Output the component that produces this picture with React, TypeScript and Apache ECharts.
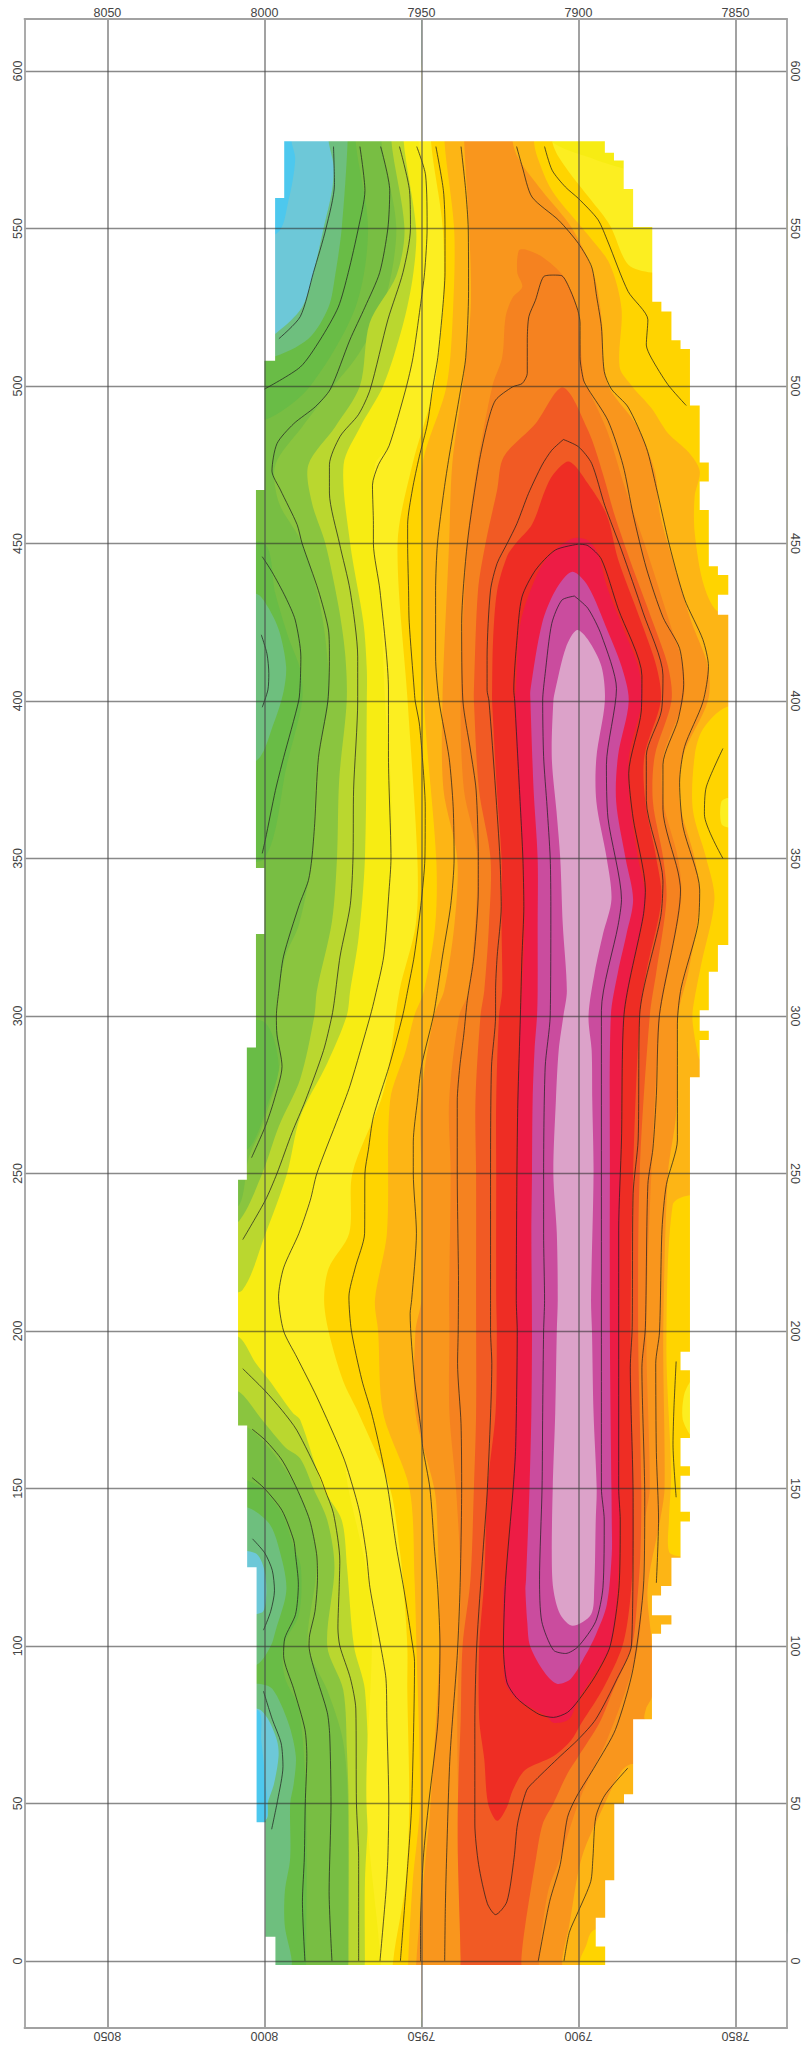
import React, { useEffect, useRef } from "react";
import * as echarts from "echarts";

type P = number[];

const X_TICKS = [8050, 8000, 7950, 7900, 7850];
const Y_TICKS = [0, 50, 100, 150, 200, 250, 300, 350, 400, 450, 500, 550, 600];
const X_LEFT = 8076.4;
const X_RIGHT = 7833.6;
const Y_BOTTOM = -21.3;
const Y_TOP = 616.5;

// Low patches that lie under every band
const LOW_BLUE_TOP: P[] = [[8015, 590], [7991.4, 590], [7991.4, 578], [7990.2, 572], [7992.3, 559], [7996, 548.5], [8015, 545]];
const LOW_CYAN_TOP: P[] = [[8015, 590], [7979.6, 590], [7979.6, 578], [7978, 570], [7978.5, 562], [7981.2, 550], [7984.4, 536], [7988, 525], [7996, 517], [8003, 513], [8015, 512]];
const LOW_CYAN_MID: P[] = [[8015, 129.5], [8003, 129.5], [8000, 124], [7999.5, 115], [8001, 110.5], [8015, 110]];
const LOW_CYAN_LOW: P[] = [[8015, 80], [8002, 80], [7999, 77], [7996, 70], [7995.5, 65], [7997, 56], [7999, 50], [7999.5, 45], [8015, 43]];
const LOW_BLUE_LOW: P[] = [[8015, 80], [8002, 79.5], [8001, 70], [8000, 60], [8000, 44], [8015, 43]];

const FULL_AREA: P[] = [[8030, 600], [7840, 600], [7840, -15], [8030, -15]];

const G0: P[] = [[7973.5, 600], [7973.5, 578], [7975.4, 550], [7977.5, 535], [7979.6, 525], [7986, 515], [7998, 509], [8015, 507], [8015, 434], [8002.6, 434], [7999, 430], [7995.4, 422.5], [7993.1, 411], [7993.9, 403], [7997, 393], [8002.6, 381], [8015, 381], [8015, 144], [8005.6, 144], [7998.6, 139], [7995.5, 131.5], [7993, 118], [7996.4, 105], [7998, 100], [8002.5, 94], [8015, 92], [8015, 88.5], [8002, 88], [7997.5, 86.4], [7992.4, 75.6], [7990, 65], [7990.7, 56], [7991.8, 50], [7991.8, 32.7], [7993.5, 22], [7993.5, 11], [7991.3, 0], [7991.3, -15], [7840, -15], [7840, 600]];
const G1: P[] = [[7971, 600], [7971, 578], [7967, 550], [7971, 525], [7985.4, 500], [7998, 490], [8015, 485], [8015, 450], [8000, 450], [7996.5, 434], [7992.3, 420], [7988.6, 410], [7988, 400], [7992.8, 380], [8000, 350], [8015, 348], [8015, 300], [8000, 298], [7995.4, 284], [7998.6, 273], [8005, 258], [8015, 256], [8015, 156], [8005.6, 152.6], [8000.7, 150], [7994.4, 142], [7990.7, 131.5], [7988.4, 125], [7989, 110], [7994, 100], [7993.5, 90], [7989, 80], [7986.7, 50], [7986.7, 0], [7986.7, -15], [7840, -15], [7840, 600]];
const G2: P[] = [[7962.8, 600], [7962.8, 578], [7958, 550], [7962.2, 525], [7970.1, 510], [7978, 500], [7988, 487], [7996.5, 475], [7995.4, 463], [7988, 450], [7982.2, 430], [7979.6, 410], [7979.6, 400], [7983.3, 380], [7984.9, 350], [7989, 329], [7993.3, 319], [7995.4, 308], [7996.5, 300], [7995, 285], [8000.7, 265], [8005, 255], [8008, 240], [8015, 238], [8015, 171], [8005.6, 169.5], [7998.6, 163], [7991.2, 152.6], [7985.6, 140], [7983.4, 125], [7986.2, 100], [7980, 86], [7975, 70], [7973.4, 50], [7973.3, 0], [7973.3, -15], [7840, -15], [7840, 600]];
const G3: P[] = [[7959.6, 600], [7959.6, 578], [7955.4, 550], [7958, 535], [7966.5, 520], [7969.6, 500], [7977.5, 487], [7986, 475], [7984.9, 463], [7980.6, 450], [7976.4, 430], [7974.3, 415], [7973.8, 400], [7976.2, 375], [7976.9, 350], [7978.5, 330], [7983.3, 308], [7984.1, 300], [7988.6, 280], [7995.4, 265], [8000.7, 250], [8008, 235], [8015, 232], [8015, 182], [8008, 180.6], [8000.7, 171.7], [7993.3, 163], [7988.6, 159.5], [7984.4, 150], [7980, 140], [7977.7, 125], [7980, 100], [7974.9, 86], [7973.7, 66], [7973.2, 50], [7973.2, 0], [7973.2, -15], [7840, -15], [7840, 600]];
const G4: P[] = [[7955.7, 600], [7955.7, 578], [7951.7, 550], [7952.7, 535], [7956, 519], [7962.2, 500], [7969.5, 487], [7974.8, 475], [7972.7, 450], [7968.5, 425], [7967.4, 410], [7967.4, 400], [7968, 350], [7970, 325], [7972.7, 308], [7973.8, 300], [7980, 285], [7988.6, 268], [7992.8, 250], [8000, 230], [8007, 213], [8015, 211], [8015, 199], [8008, 198], [8002.9, 190], [7998.6, 184.5], [7991, 174], [7988.6, 171.7], [7981.2, 150], [7975.4, 140], [7973.7, 125], [7971.5, 100], [7968, 86], [7966.9, 50], [7968, 25], [7968, 0], [7968, -15], [7840, -15], [7840, 600]];
const Y1: P[] = [[7951, 600], [7951, 578], [7948.5, 567], [7948, 550], [7949, 536], [7950.4, 525], [7952.7, 510], [7955, 500], [7960.3, 481], [7964.8, 475], [7965.3, 450], [7963.2, 435], [7961.6, 400], [7959.7, 372], [7959.7, 350], [7962, 319], [7966.3, 300], [7972.7, 278], [7976.4, 268], [7983.3, 250], [7989, 231], [7993.9, 220], [7995.4, 210], [7993.9, 200], [7989.7, 191.7], [7983, 179], [7975, 160], [7973.3, 150], [7967, 121], [7965.8, 100], [7967.5, 50], [7963, 0], [7963, -15], [7840, -15], [7840, 566], [7880, 568], [7895, 572], [7910, 579], [7915, 600]];
const Y2: P[] = [[7947, 600], [7947, 578], [7943.2, 550], [7943.2, 525], [7945.9, 500], [7952.9, 475], [7957.6, 450], [7954.4, 400], [7951.3, 350], [7951.8, 329], [7957, 308], [7960.5, 283], [7963, 273], [7972, 250], [7973, 231], [7979.5, 220], [7981, 210], [7979.6, 200], [7974.9, 184], [7970.1, 174], [7960, 150], [7957, 131], [7955.9, 121], [7954.5, 100], [7954.5, 86], [7953.9, 50], [7955, 25], [7959, 0], [7959, -15], [7840, -15], [7840, 536], [7870, 536], [7876.8, 536], [7884.2, 538.6], [7890, 551], [7896, 559], [7900, 564], [7906.3, 572.7], [7908.4, 578], [7909, 600]];
const YELLOW_PATCH_A: P[] = [[7864, 184], [7866.3, 180], [7866.8, 172], [7864, 167]];
const YELLOW_PATCH_B: P[] = [[7852, 369], [7854.5, 368], [7854.5, 361], [7852, 360]];
const O0: P[] = [[7942.7, 600], [7942.7, 578], [7939.6, 550], [7939.9, 525], [7942, 500], [7949.7, 475], [7949.7, 450], [7949.2, 400], [7945.3, 350], [7945.6, 329], [7949.2, 308], [7952.3, 300], [7955, 289], [7960, 273], [7961, 231], [7964.8, 210], [7963.8, 200], [7962.2, 174], [7953.8, 150], [7952.2, 121], [7951.6, 100], [7950.5, 50], [7952.8, 25], [7954.2, 0], [7954.2, -15], [7899.5, -15], [7899.5, 0], [7897.5, 5], [7896, 9], [7893, 10.5], [7880, 11], [7840, 11], [7840, 128], [7868, 128.5], [7871.2, 130], [7871.2, 140], [7870.5, 155], [7872, 195], [7870, 240], [7865, 243], [7840, 244], [7840, 285], [7861, 286], [7862, 288], [7863.6, 297.5], [7863.6, 302], [7861, 316], [7856.7, 337], [7859.3, 350], [7863.6, 365.6], [7863, 382.6], [7860.4, 391], [7853, 398], [7840, 398.5], [7840, 428], [7855, 428], [7860, 436.5], [7863, 453.5], [7863, 465], [7861.4, 473], [7865, 479], [7871.5, 485], [7876.8, 493], [7883, 500], [7886.9, 506], [7886.3, 524.5], [7890, 538.6], [7897, 548], [7908.4, 562], [7913.1, 572.7], [7914.2, 578], [7914.5, 600]];
const O1: P[] = [[7936.4, 600], [7936.4, 578], [7934.8, 550], [7934.3, 525], [7936.9, 500], [7940.2, 475], [7941.2, 450], [7943.3, 400], [7943, 372], [7938.6, 350], [7939.5, 329], [7942.8, 308], [7946, 300], [7950.2, 273], [7950, 250], [7950, 210], [7951.9, 200], [7951.9, 174], [7945.9, 150], [7945, 140], [7944.3, 100], [7947.1, 50], [7949.4, 25], [7951.6, 0], [7951.6, -15], [7905.2, -15], [7905.2, 0], [7903, 11], [7899, 32.7], [7891.6, 50], [7886.5, 60], [7883, 62.5], [7840, 63], [7840, 76], [7878.6, 76.5], [7878.5, 80], [7876.6, 84], [7876.6, 100], [7878, 118], [7874, 140], [7872.6, 150], [7873, 200], [7871.5, 250], [7868.9, 269], [7868.3, 300], [7865, 314], [7861.4, 337], [7863, 350], [7867.8, 368], [7866.7, 382.6], [7858.8, 400], [7858.8, 411], [7864, 425], [7868.3, 439], [7874, 459], [7875.7, 473], [7881.6, 487.6], [7890, 499], [7892, 507], [7892.5, 520], [7895, 535], [7902, 550], [7911.6, 562], [7919, 572], [7921, 578], [7921, 600]];
const O2: P[] = [[7916.9, 543.3], [7919, 543], [7919.5, 536], [7917.9, 531.5], [7921, 528], [7923.2, 522], [7924.3, 509], [7927.4, 500], [7932.2, 475], [7935.4, 450], [7937.5, 400], [7936.5, 372], [7932.2, 350], [7934.9, 308], [7938, 300], [7941.2, 273], [7940.7, 250], [7941.2, 210], [7941.1, 200], [7941.1, 174], [7939, 150], [7937.5, 121], [7938, 100], [7938.6, 77], [7938.3, 50], [7937.5, 0], [7937.5, -15], [7912.6, -15], [7912.6, 0], [7909.7, 22], [7905.8, 32.7], [7900.1, 50], [7896, 59.5], [7891, 70], [7884.8, 86.4], [7881, 100], [7879.5, 118.5], [7878.8, 140], [7877.3, 150], [7878.4, 200], [7876.8, 250], [7874, 300], [7871.5, 314], [7867.3, 337], [7868.3, 350], [7873, 368], [7873, 382.6], [7866.7, 400], [7866.7, 411], [7871, 425], [7879, 450], [7885.3, 468], [7890.6, 485], [7897, 499], [7898, 500], [7899.5, 514.6], [7900.5, 525], [7904.7, 534.7], [7911.6, 541]];
const O3: P[] = [[7905, 499.5], [7913.7, 488], [7923.8, 477.5], [7925.9, 467], [7929.6, 450], [7932, 435], [7933.3, 403.5], [7933.3, 400], [7931.7, 372], [7928, 350], [7928.5, 329], [7930, 308], [7931.2, 300], [7932.8, 273], [7932.6, 250], [7932.6, 210], [7932.6, 174], [7933.3, 150], [7934.4, 121], [7936.9, 100], [7937.5, 76.7], [7938.4, 50], [7938.4, 32.7], [7937.5, 0], [7937.5, -15], [7918.2, -15], [7918.2, 0], [7917, 11], [7913.5, 32.7], [7911.4, 43.5], [7908, 50], [7903.5, 59.5], [7900, 65], [7893.3, 75.6], [7888.8, 86.4], [7883, 100], [7881.4, 113], [7880.3, 129], [7880, 150], [7881, 200], [7880.5, 250], [7877.3, 300], [7875.2, 314], [7872, 337], [7873, 350], [7876.3, 368], [7875.7, 382.6], [7870.4, 400], [7871.5, 411], [7876.3, 425], [7883.7, 445], [7888.5, 459], [7892.2, 472], [7897, 486]];
const RED: P[] = [[7903, 476], [7908, 472], [7910.6, 467], [7914.8, 456], [7920, 450], [7922.7, 446], [7925.9, 435], [7927.2, 419], [7927.5, 403.5], [7927.5, 400], [7926, 372], [7924.5, 350], [7924.5, 329], [7924.3, 308], [7925.3, 300], [7926.2, 273], [7926.2, 250], [7926.2, 210], [7926, 200], [7926.4, 174], [7929, 150], [7930, 121], [7931.6, 100], [7931.6, 76.7], [7930, 64], [7928.8, 50], [7925.9, 44.5], [7922.8, 48.8], [7921, 54], [7917, 60.6], [7908, 65], [7902.4, 70], [7899, 75.6], [7892.2, 86.4], [7886, 100], [7883.7, 113], [7882.6, 129], [7882.6, 150], [7883.4, 200], [7882.6, 250], [7880.5, 300], [7878.4, 314], [7873.6, 337], [7875.2, 350], [7878.7, 368], [7879, 382.6], [7873.8, 400], [7875.2, 411], [7880, 425], [7887.4, 445], [7891, 459], [7897, 469]];
const CRIMSON: P[] = [[7902, 451.6], [7909.5, 446], [7913.7, 439], [7918.5, 424.6], [7920, 403.5], [7920.3, 400], [7919, 372], [7917.6, 350], [7917.2, 329], [7918, 308], [7918.5, 300], [7919.3, 273], [7919.3, 250], [7919.9, 231], [7919.9, 210], [7919.5, 200], [7920, 174], [7920.9, 150], [7923.2, 121], [7923.9, 118], [7923.7, 100], [7923.3, 88.5], [7919.4, 83], [7910.3, 77.8], [7908, 75.6], [7903, 76.7], [7900.1, 83], [7894.5, 91.7], [7889.9, 100], [7887.9, 113], [7887.1, 129], [7886.9, 150], [7886.7, 250], [7885.6, 300], [7883.2, 314], [7878.7, 337], [7881, 350], [7883.7, 368], [7883.9, 382.6], [7879.8, 400], [7881, 411], [7885.3, 422], [7891, 436.5], [7893.7, 446.5], [7897, 451]];
const MAGENTA: P[] = [[7902, 441], [7907.4, 435], [7911.6, 424.6], [7915.3, 403.5], [7915.3, 400], [7914.3, 372], [7913, 350], [7913, 329], [7913, 308], [7913.2, 300], [7914, 289], [7914.6, 273], [7914.8, 250], [7915, 231], [7914.8, 200], [7915, 174], [7915.6, 150], [7916.7, 121], [7916.9, 118], [7916.3, 107.5], [7915.4, 100], [7910.9, 91.7], [7906.9, 88], [7902.4, 89.6], [7897.8, 97], [7894.5, 103.5], [7891, 113], [7889.4, 129], [7889.4, 140], [7889.5, 150], [7890, 200], [7890, 250], [7889.7, 300], [7887.4, 314], [7884.7, 326], [7882.6, 337], [7885, 350], [7888, 368], [7887.4, 382.6], [7884, 400], [7886.3, 411], [7890.6, 422], [7897, 436.5]];
const PINK: P[] = [[7900.5, 422.5], [7904, 417], [7907.4, 403.5], [7908, 400], [7908.5, 382], [7907, 365], [7905.8, 350], [7905, 329], [7903.7, 308], [7904.8, 300], [7906.3, 289], [7907.2, 273], [7908, 250], [7906.9, 231], [7906.6, 210], [7906.9, 200], [7907.4, 174], [7908.2, 150], [7908.5, 129], [7908, 118], [7905.8, 110], [7901.8, 106.4], [7896, 110], [7895, 118], [7894.5, 140], [7894.2, 150], [7895.2, 174], [7895.7, 200], [7896, 210], [7895.2, 250], [7895.6, 273], [7895.8, 289], [7896.8, 300], [7894.8, 314], [7892.2, 326], [7889.5, 337], [7891, 350], [7894.3, 368], [7894.3, 382], [7891.6, 400], [7892.7, 411], [7897, 419.5]];

const BANDS: [string, P[]][] = [
  ["#6EBF7E", FULL_AREA],
  ["#6DC8D8", LOW_CYAN_TOP],
  ["#4DC8EE", LOW_BLUE_TOP],
  ["#6DC8D8", LOW_CYAN_MID],
  ["#6DC8D8", LOW_CYAN_LOW],
  ["#4DC8EE", LOW_BLUE_LOW],
  ["#69BC46", G0],
  ["#78BE43", G1],
  ["#8AC53F", G2],
  ["#BAD72F", G3],
  ["#F7EC13", G4],
  ["#FCEE21", Y1],
  ["#FFD400", Y2],
  ["#FCEE21", YELLOW_PATCH_A],
  ["#FCEE21", YELLOW_PATCH_B],
  ["#FDB515", O0],
  ["#F9961D", O1],
  ["#F58220", O2],
  ["#F15A24", O3],
  ["#EE2D24", RED],
  ["#ED1C45", CRIMSON],
  ["#CA4C9E", MAGENTA],
  ["#DCA2C9", PINK],
];

// Stair-stepped outline of the mapped area: [x of the step, y where the step ends]
const LEFT_STEPS: P[] = [[7993.7, 559.7], [7996.6, 508], [8000, 467], [8002.7, 347], [8000, 326], [8002.7, 290], [8005.6, 248], [8008.4, 170], [8005.5, 125], [8002.5, 44], [7999.7, 7.7], [7996.5, -1.3]];
const RIGHT_STEPS: P[] = [[7891.6, 574], [7888.7, 571.6], [7885.6, 562.5], [7882.6, 550.5], [7876.5, 526.7], [7873.6, 523.6], [7870.4, 514.5], [7867.5, 511.7], [7864.5, 493.8], [7861.4, 475.7], [7858.5, 469.7], [7861.4, 460.6], [7858.5, 442.8], [7855.6, 440], [7852.3, 433.7], [7855.6, 427.4], [7852.3, 322.5], [7855.6, 314], [7858.5, 301.8], [7861.4, 295.3], [7858.5, 292.4], [7861.4, 280.5], [7864.5, 193.4], [7867.5, 187.5], [7864.5, 166], [7867.5, 157], [7864.5, 154], [7867.5, 142.6], [7864.5, 139.5], [7867.5, 128], [7870.4, 119], [7873.7, 116], [7876.6, 109.7], [7870.4, 106.8], [7873.7, 103.9], [7876.6, 76.7], [7882.6, 52.9], [7885.5, 49.9], [7888.6, 25.6], [7891.5, 13.7], [7894.5, 4.6], [7891.5, -1.3]];
const AREA_TOP = 577.7;
const AREA_SPLIT_X = 7950;

// Contour lines
const L1: P[] = [[7978, 576], [7977.7, 564], [7980.4, 550], [7984.4, 536], [7988.6, 522], [7995.4, 515]];
const L2: P[] = [[7969.6, 576], [7968, 562], [7970.1, 550], [7973.3, 536], [7976.5, 525], [7982.3, 514.6], [7988.6, 506], [8000, 499]];
const L3: P[] = [[7963, 576], [7960.1, 562], [7960.7, 550], [7963.3, 536], [7968, 525], [7972.8, 514.6], [7979, 499], [7983.8, 493.4], [7990.7, 488], [7996, 481.7], [7997.6, 473], [7994.9, 467], [7989.6, 456], [7988, 450], [7982.8, 435], [7979.6, 422.5], [7979.3, 414], [7979.8, 400], [7982.8, 382], [7984, 361], [7984.9, 350], [7986, 343], [7989, 335], [7993.9, 319], [7995.4, 308], [7996.2, 300], [7996, 294], [7994.4, 284], [7997, 273], [7999.7, 265], [8004.1, 255]];
const L4: P[] = [[7957, 576], [7953.8, 562], [7953.5, 550], [7955.9, 536], [7960.7, 521], [7966.3, 499], [7970, 491], [7975.9, 484], [7979.3, 475], [7979.3, 466], [7976.1, 450], [7972.7, 435], [7970.3, 414], [7970.3, 400], [7971.6, 372], [7971.8, 350], [7972.7, 335], [7975.9, 319], [7977.7, 305], [7978.5, 300], [7981.2, 289], [7987, 273], [7991.2, 263], [7996, 250], [7999.7, 241.5], [8006.9, 229]];
const L5: P[] = [[7951.5, 576], [7948.7, 567], [7948.2, 550], [7949, 536], [7950.4, 525], [7952.7, 509], [7955, 499], [7960.3, 481], [7963.7, 475], [7965.6, 468.5], [7965.3, 456], [7965.3, 450], [7963.2, 435], [7960.5, 403.5], [7960.5, 382], [7959.7, 350], [7960.3, 340], [7962, 319], [7964.8, 306], [7966.3, 300], [7972.7, 278], [7976.4, 268], [7983.3, 250], [7985.4, 241.5], [7989, 231], [7993.9, 220], [7995.5, 210.8], [7993.9, 200], [7989.7, 191.7], [7983.3, 179], [7974.9, 160], [7971.7, 150], [7969.6, 142], [7967.5, 129], [7966.4, 118.5], [7963, 100], [7961.3, 89.6], [7961, 75.6], [7960.4, 50], [7960.7, 32.7], [7961.3, 22], [7963.2, 0]];
const L6: P[] = [[7945.4, 576], [7943, 562], [7942.5, 550], [7942.5, 536], [7943.2, 525], [7944.8, 509], [7946.5, 499], [7948.1, 488], [7950.7, 477.5], [7952.9, 467], [7954.4, 456], [7954.4, 450], [7954.1, 435], [7953.9, 425], [7952.3, 403.5], [7952, 400], [7950.7, 393], [7949.7, 382], [7948.8, 366.4], [7948.9, 350], [7950.2, 335], [7952.3, 319], [7954.4, 308], [7956, 300], [7960.3, 284], [7965.3, 268], [7966.9, 257.5], [7968, 250], [7968.1, 231], [7971.1, 220], [7973.1, 210.8], [7972.3, 200], [7969, 184.5], [7965.9, 174], [7963.3, 163], [7960.7, 150], [7958, 131.5], [7955.6, 118], [7952.8, 100], [7952.2, 95], [7953.1, 50], [7954.2, 32.7], [7956.7, 0]];
const L7: P[] = [[7937.4, 576], [7935.9, 562], [7935.1, 550], [7935, 530], [7935.9, 509], [7937.5, 499], [7941.2, 477.5], [7942.8, 467], [7944.9, 450], [7945.5, 435], [7945.5, 414], [7944.4, 400], [7941.2, 382], [7939.9, 366.4], [7939.6, 350], [7940.7, 335], [7943.3, 319], [7944.9, 308], [7946.2, 300], [7950, 284], [7951.3, 273], [7952.6, 260], [7952.6, 250], [7951.6, 231], [7953.1, 210], [7953.6, 205.5], [7952.2, 184.5], [7950.1, 168.5], [7949.6, 163], [7947.3, 150], [7945.9, 131.5], [7944.8, 118], [7944.1, 100], [7944.8, 75.6], [7947.7, 50], [7949.4, 32.7], [7950.3, 11], [7950.3, 0]];
const L8: P[] = [[7942.6, 0], [7942.4, 16.6], [7942, 32.7], [7940.9, 65], [7938.6, 97], [7937.7, 118.6], [7937.2, 150], [7937.4, 170.6], [7938.5, 189.7], [7938.3, 200], [7938.2, 216], [7938.4, 231], [7938.6, 250], [7938.6, 273], [7937.8, 283.8], [7936.5, 294.3], [7935.4, 305], [7933.3, 318.8], [7931.9, 340], [7931.9, 350], [7932.6, 371.7], [7934.4, 384.4], [7936.8, 400], [7937.2, 424.6], [7935.4, 450], [7931.7, 475.4], [7929, 488], [7926.4, 495.5], [7921, 499.7], [7917.9, 500.8], [7916.3, 504], [7916.3, 514.6], [7915.8, 522], [7913.7, 527.2], [7911.1, 534.7], [7907.9, 535.2], [7905.3, 535], [7902.6, 530.4], [7900.2, 524], [7899.5, 520], [7899.5, 509.3], [7898.4, 501.9], [7896.9, 499], [7890.6, 489], [7885.8, 474.8], [7882.6, 459.2], [7878.4, 442.2], [7873.1, 426.6], [7867.8, 416.7], [7866.5, 405.3], [7868.3, 394], [7873.1, 379.8], [7873.1, 365.6], [7868.3, 345.7], [7867.5, 340], [7874.2, 300.4], [7875.2, 274.8], [7876.3, 257.8], [7877.9, 246.5], [7878.7, 201], [7879.8, 188.3], [7878.9, 147], [7879.2, 120.7], [7882.6, 92.8], [7888.2, 73.5], [7894.5, 62.2], [7900.7, 52], [7903.5, 45.6], [7905.8, 30.6], [7909.2, 18.8], [7912.8, 0]];
const L10: P[] = [[7904.8, 483], [7908.5, 479.6], [7911.6, 474.9], [7915.9, 465.9], [7919.6, 456.3], [7922.7, 450], [7925.9, 443.7], [7928, 435.2], [7929.1, 414], [7929.1, 403.4], [7928.5, 400], [7926.4, 371.7], [7925, 350], [7924.6, 334.7], [7925.9, 318.8], [7926.4, 308], [7926.4, 300], [7927.7, 283.8], [7928, 250], [7928, 209.7], [7928, 200], [7927.6, 189.7], [7929, 150], [7930.4, 130], [7932.4, 100], [7933, 75.6], [7933, 43.5], [7931.8, 30.6], [7929, 18.2], [7926.4, 14.7], [7922.8, 18.8], [7920.5, 32.7], [7919.4, 43.5], [7916.5, 54.2], [7913.7, 57.4], [7905.8, 65], [7900.1, 70.3], [7894.5, 76.7], [7887.7, 89.6], [7883.1, 100.3], [7882.6, 140], [7882.6, 147.2], [7883.5, 188.3], [7882.9, 201], [7882.6, 243.6], [7881, 260.6], [7880.5, 300.4], [7873.8, 331.6], [7873.1, 342.9], [7878.4, 368.4], [7878.4, 382.6], [7873.6, 396.8], [7873.1, 408.2], [7879.4, 428], [7886.3, 447.9], [7891.6, 462], [7895.8, 475.4], [7900, 480.7], [7904.8, 483]];
const LC: P[] = [[7900, 449.8], [7907.4, 447.9], [7913.7, 441.5], [7918, 433], [7919.6, 419.3], [7920.6, 403.4], [7920.3, 400], [7918.5, 366.4], [7917.7, 350], [7917.4, 334.7], [7918, 318.8], [7918.5, 300], [7919.3, 273], [7919.6, 250], [7919.8, 209.7], [7919.5, 200], [7920, 163], [7920.8, 150], [7923.2, 121], [7923.9, 100], [7922.8, 88.5], [7919.4, 83.2], [7912.6, 78.3], [7908, 77.3], [7903.5, 78.9], [7900.1, 82.6], [7894.5, 90.7], [7889.9, 100], [7887.1, 118.6], [7886.7, 140], [7887.2, 150], [7887.2, 232], [7886.3, 260.6], [7885.5, 300.4], [7879.4, 331.6], [7878.7, 340], [7882.6, 362.8], [7884, 377], [7880, 396.8], [7879.8, 408], [7887.4, 429.4], [7892.7, 445], [7897, 449.3], [7900, 449.8]];
const LM: P[] = [[7901.3, 433.3], [7905.3, 432], [7908.5, 424.6], [7910.6, 408.7], [7911.4, 400], [7911.1, 382.3], [7910, 366.4], [7909, 350], [7908.8, 334.7], [7909, 300], [7910.6, 283.8], [7911.1, 250], [7911.1, 231], [7910.8, 209.7], [7911.1, 200], [7911.4, 174], [7911.6, 150], [7912.4, 121], [7911.7, 107.8], [7908, 98.7], [7904.1, 97.6], [7900.1, 99.8], [7894.5, 107.8], [7892.2, 118.6], [7891.8, 140], [7892.7, 150], [7892.7, 198], [7892.7, 301.8], [7887.4, 328.7], [7886.3, 337], [7890.6, 362.8], [7891.1, 379.8], [7887.9, 403.9], [7892.7, 420.9], [7897, 429.4], [7901.3, 433.3]];
const R1: P[] = [[7910.8, 576], [7908.4, 568.5], [7904.2, 563.2], [7900, 559.5], [7893.8, 552.8], [7890.6, 545.7], [7884.2, 530], [7877.9, 521], [7878.4, 513], [7876.8, 508.9], [7871.5, 500.4], [7865.7, 493.8]];
const R2: P[] = [[7919.7, 576], [7917.9, 569.6], [7914.8, 560], [7906.3, 552.6], [7900, 545.2], [7895.8, 537.8], [7894.2, 528.3], [7892.7, 518.8], [7891.8, 504.6], [7889.5, 499], [7884.2, 493.3], [7878.4, 480.5], [7875.2, 467.7], [7871, 449.3], [7866.2, 432.3], [7860.4, 419.5], [7858.6, 411], [7860.4, 399.6], [7866.2, 385.5], [7867.8, 374], [7866.7, 360], [7861.4, 340], [7862, 328.7], [7867.3, 308.9], [7868.5, 297.5], [7868.5, 260.6], [7872, 246.5], [7873.4, 232.3], [7874.2, 199.6], [7875.4, 189.7], [7875.2, 161.4], [7874.5, 140], [7875.2, 120]];
const R3: P[] = [[7868.9, 190.3], [7869.6, 175.5], [7869.9, 164], [7868.9, 147.2]];
const R4: P[] = [[7854, 384.9], [7859.3, 372.7], [7859.9, 364], [7854, 350]];
const R5: P[] = [[7884.3, 61.2], [7891.6, 52.6], [7894.5, 45.6], [7895.4, 32.7], [7896.1, 25.2], [7900.1, 15.6], [7902.9, 9.1], [7904.6, 0]];
const S1: P[] = [[8000.7, 445.8], [7997.6, 441], [7993.3, 433], [7990.2, 425.7], [7988.4, 414], [7988.6, 405.6], [7989.1, 400], [7993.9, 382], [7996.5, 371.6], [7999.7, 356], [8000.7, 351.6]];
const S2: P[] = [[8001, 421], [7999.2, 415], [7998.6, 408.7], [7998.9, 403.5], [8000.7, 398]];
const S3: P[] = [[8006.9, 188], [8000, 181.2], [7994.4, 174.8], [7989.7, 168.5], [7982.3, 153.7], [7980.7, 149.5], [7978, 142], [7976, 127], [7976.2, 118.6], [7976.6, 105.7], [7976, 100], [7972.6, 89.6], [7970.9, 80], [7970.7, 50], [7970, 32.7], [7970, 0]];
const S4: P[] = [[8003.9, 168.8], [7999.7, 165.3], [7994.4, 159], [7989.7, 150], [7985.6, 140], [7983.4, 129.3], [7983.1, 121.8], [7983.9, 111], [7985.6, 103.5], [7985.8, 100], [7983.9, 91.7], [7980, 78.9], [7979.2, 71.4], [7978.8, 50], [7979.4, 22], [7978.5, 0]];
const S5: P[] = [[8003.9, 153.4], [8000, 150], [7994.4, 143], [7990.7, 133.6], [7990.1, 129], [7989.2, 119.6], [7990.1, 110], [7993.5, 102.5], [7993.9, 97], [7990.7, 86.4], [7987.1, 73.5], [7986.5, 64.9], [7987, 50], [7987.3, 32.7], [7987.9, 18.8], [7987.1, 0]];
const S6: P[] = [[8003.8, 134], [7999.9, 129.5], [7997.5, 124], [7996.8, 117.5], [7998, 111], [8000.3, 105]];
const S7: P[] = [[8000.3, 85.6], [7997.5, 76.7], [7994.7, 69.2], [7994.1, 61.7], [7995.8, 51], [7997.7, 41.8]];

const CONTOURS: P[][] = [L1, L2, L3, L4, L5, L6, L7, L8, L10, LC, LM, R1, R2, R3, R4, R5, S1, S2, S3, S4, S5, S6, S7];

function stairs(steps: P[]): P[] {
  const out: P[] = [[AREA_SPLIT_X, AREA_TOP]];
  let y = AREA_TOP;
  for (const [x, yEnd] of steps) {
    out.push([x, y], [x, yEnd]);
    y = yEnd;
  }
  out.push([AREA_SPLIT_X, y]);
  return out;
}

function maskPolygon(steps: P[], edgeX: number): P[] {
  return [...stairs(steps), [AREA_SPLIT_X, Y_BOTTOM], [edgeX, Y_BOTTOM], [edgeX, Y_TOP], [AREA_SPLIT_X, Y_TOP]];
}

const MASKS: P[][] = [maskPolygon(LEFT_STEPS, X_LEFT), maskPolygon(RIGHT_STEPS, X_RIGHT)];

const LABEL = { fontFamily: "Liberation Sans", fontSize: 12.5, color: "#444444" };
const FRAME = { show: true, onZero: false, lineStyle: { color: "#a2a2a2", width: 1.8 } };

export default function App() {
  const ref = useRef<HTMLDivElement>(null);
  useEffect(() => {
    const chart = echarts.init(ref.current!, undefined, { renderer: "svg" });
    const fmt = (v: number) => String(v);
    const polyItem = (list: P[][], colorOf: (i: number) => string, smooth: number) => (params: any, api: any) => {
      const pts = list[params.dataIndex].map((p) => api.coord(p));
      return { type: "polygon", shape: { points: pts, smooth }, style: { fill: colorOf(params.dataIndex), stroke: null }, silent: true };
    };
    const bandLists = BANDS.map((b) => b[1]);
    chart.setOption({
      animation: false,
      backgroundColor: "#ffffff",
      tooltip: { show: false },
      grid: { left: 24.5, top: 19, width: 765, height: 2009, containLabel: false },
      xAxis: [
        {
          type: "value", position: "top", inverse: true, min: X_RIGHT, max: X_LEFT, z: 10,
          axisLine: FRAME, axisTick: { show: false, customValues: X_TICKS },
          axisLabel: { ...LABEL, customValues: X_TICKS, formatter: fmt, margin: 0 },
          splitLine: { show: true, lineStyle: { color: "rgba(70,70,70,0.5)", width: 2 } },
        },
        {
          type: "value", position: "bottom", inverse: true, min: X_RIGHT, max: X_LEFT, z: 10,
          axisLine: FRAME, axisTick: { show: false, customValues: X_TICKS },
          axisLabel: { ...LABEL, customValues: X_TICKS, formatter: fmt, rotate: 180, margin: 1 },
          splitLine: { show: false },
        },
      ],
      yAxis: [
        {
          type: "value", position: "left", min: Y_BOTTOM, max: Y_TOP, z: 10,
          axisLine: FRAME, axisTick: { show: false, customValues: Y_TICKS },
          axisLabel: { ...LABEL, customValues: Y_TICKS, formatter: fmt, rotate: 90, margin: 0 },
          splitLine: { show: true, lineStyle: { color: "rgba(40,40,40,0.55)", width: 1.3 } },
        },
        {
          type: "value", position: "right", min: Y_BOTTOM, max: Y_TOP, z: 10,
          axisLine: FRAME, axisTick: { show: false, customValues: Y_TICKS },
          axisLabel: { ...LABEL, customValues: Y_TICKS, formatter: fmt, rotate: -90, margin: 1 },
          splitLine: { show: false },
        },
      ],
      series: [
        {
          type: "custom", coordinateSystem: "cartesian2d", z: 2, silent: true, clip: true,
          data: BANDS.map((b, i) => [b[1][0][0], b[1][0][1], i]),
          renderItem: polyItem(bandLists, (i) => BANDS[i][0], 0.3),
        },
        {
          type: "custom", coordinateSystem: "cartesian2d", z: 3, silent: true, clip: true,
          data: MASKS.map((m) => [m[0][0], m[0][1]]),
          renderItem: polyItem(MASKS, () => "#ffffff", 0),
        },
        ...CONTOURS.map((points) => ({
          type: "line", z: 4, silent: true, data: points, smooth: 0.25, showSymbol: false, symbol: "none",
          lineStyle: { color: "rgba(30,30,30,0.72)", width: 1 },
        })),
      ],
    });
    return () => chart.dispose();
  }, []);
  return <div ref={ref} style={{ position: "absolute", left: 0, top: 0, width: 801, height: 2049 }} />;
}
